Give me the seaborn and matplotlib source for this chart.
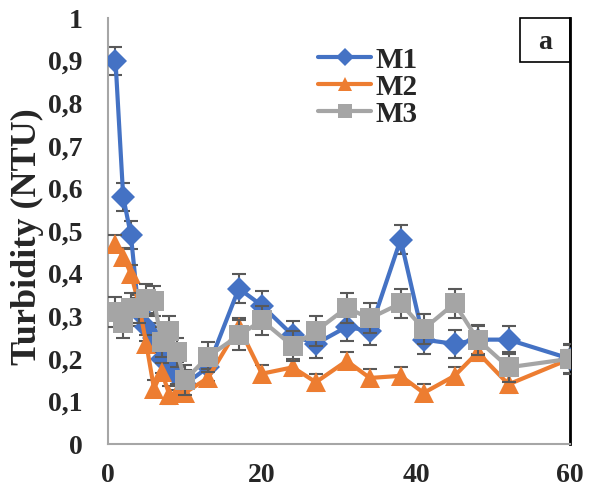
import matplotlib
matplotlib.use("Agg")
import matplotlib.pyplot as plt
import matplotlib.patches as patches
import seaborn as sns
import pandas as pd

# sampling times and turbidity values
time = [1, 2, 3, 4, 5, 6, 7, 8, 9, 10, 13, 17, 20, 24, 27, 31, 34, 38, 41, 45, 48, 52, 60]
m1 = [0.90, 0.58, 0.49, 0.31, 0.275, 0.25, 0.20, 0.19, 0.16, 0.14, 0.18, 0.365,
      0.325, 0.255, 0.235, 0.275, 0.265, 0.48, 0.245, 0.235, 0.245, 0.245, 0.20]
m2 = [0.47, 0.44, 0.40, 0.33, 0.235, 0.13, 0.17, 0.115, 0.12, 0.12, 0.155, 0.275,
      0.165, 0.18, 0.145, 0.195, 0.155, 0.16, 0.12, 0.16, 0.215, 0.14, 0.20]
m3 = [0.31, 0.285, 0.32, 0.32, 0.34, 0.335, 0.24, 0.265, 0.215, 0.15, 0.205, 0.255,
      0.29, 0.23, 0.265, 0.32, 0.295, 0.33, 0.27, 0.33, 0.245, 0.18, 0.20]
err = {"M1": 0.033, "M2": 0.02, "M3": 0.035}

yticks = [0, 0.1, 0.2, 0.3, 0.4, 0.5, 0.6, 0.7, 0.8, 0.9, 1]
ytick_labels = ["0", "0,1", "0,2", "0,3", "0,4", "0,5", "0,6", "0,7", "0,8", "0,9", "1"]
xticks = [0, 20, 40, 60]

df = pd.DataFrame({"time": time * 3,
                   "turbidity": m1 + m2 + m3,
                   "series": ["M1"] * len(time) + ["M2"] * len(time) + ["M3"] * len(time)})

sns.set_style("white")
plt.rcParams["font.family"] = ["Liberation Serif", "DejaVu Serif"]
plt.rcParams["font.weight"] = "bold"

fig = plt.figure(figsize=(5.89, 5.0), dpi=100)
ax = fig.add_axes([0.183, 0.112, 0.785, 0.852])

colors = {"M1": "#4472C4", "M2": "#ED7D31", "M3": "#A5A5A5"}
markers = {"M1": "D", "M2": "^", "M3": "s"}
sizes = {"M1": 12.5, "M2": 14, "M3": 14}

for i, name in enumerate(["M1", "M2", "M3"]):
    sub = df[df["series"] == name]
    ax.errorbar(sub["time"], sub["turbidity"], yerr=err[name], fmt="none",
                ecolor="#595959", elinewidth=1.5, capsize=5, capthick=1.5, zorder=2 + i * 2)
    sns.lineplot(data=sub, x="time", y="turbidity", ax=ax, color=colors[name],
                 marker=markers[name], markersize=sizes[name], markeredgewidth=0,
                 linewidth=3, label=name, zorder=3 + i * 2)

ax.set_xlim(0, 60)
ax.set_ylim(0, 1)
ax.set_xticks(xticks)
ax.set_yticks(yticks)
ax.set_yticklabels(ytick_labels)
ax.tick_params(axis="both", length=0, labelsize=20)
ax.tick_params(axis="x", pad=14)
ax.tick_params(axis="y", pad=18)
for lab in ax.get_xticklabels() + ax.get_yticklabels():
    lab.set_fontweight("bold")

ax.set_xlabel("")
ax.set_ylabel("Turbidity (NTU)", fontsize=26, fontweight="bold")
ax.yaxis.set_label_coords(-0.138, 0.486)

for side in ["left", "bottom"]:
    ax.spines[side].set_color("#A6A6A6")
    ax.spines[side].set_linewidth(1.5)
ax.spines["top"].set_visible(False)
ax.spines["right"].set_color("black")
ax.spines["right"].set_linewidth(2)

# panel label box
box = patches.Rectangle((0.892, 0.897), 0.108, 0.103, transform=ax.transAxes,
                        fill=False, edgecolor="black", linewidth=1.2, clip_on=False)
ax.add_patch(box)
ax.text(0.946, 0.943, "a", transform=ax.transAxes, ha="center", va="center",
        fontsize=20, fontweight="bold")

leg = ax.legend(loc="upper left", bbox_to_anchor=(0.43, 0.96), frameon=False,
                prop={"size": 21, "weight": "bold"}, handlelength=1.8,
                handletextpad=0.15, labelspacing=0.0, borderaxespad=0,
                markerscale=0.75)

fig.savefig("out.png", dpi=100)
